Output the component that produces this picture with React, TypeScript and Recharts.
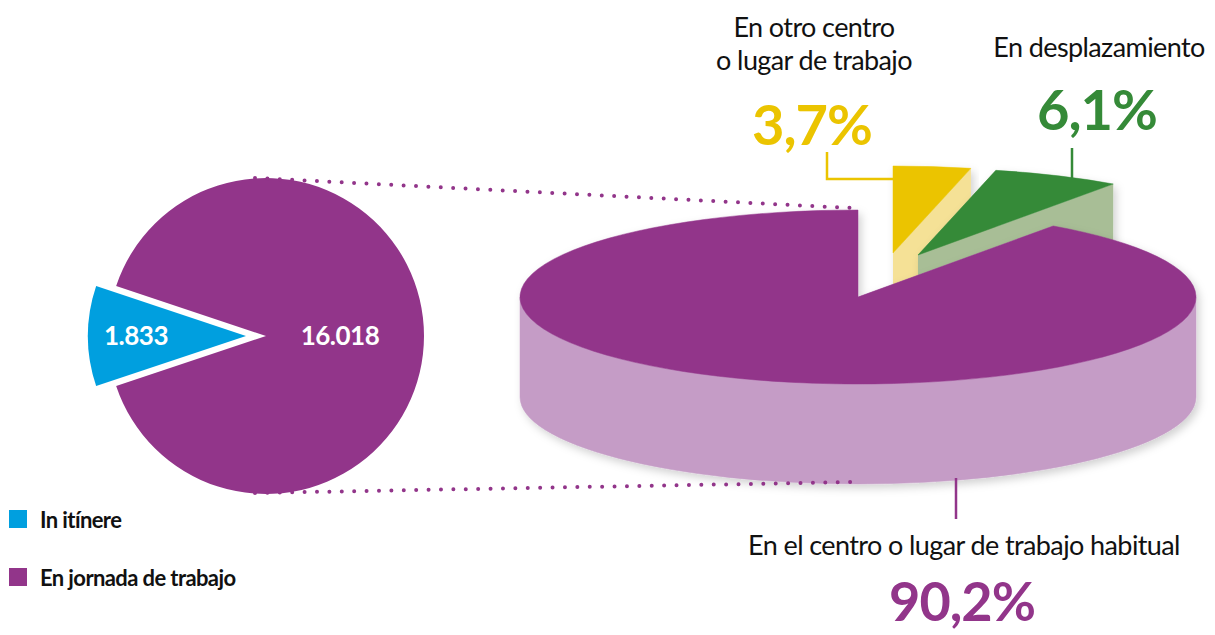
import { PieChart, Pie, Cell } from "recharts";

// left pie: total accidents split
const LEFT_NAMES = ["In itínere", "En jornada de trabajo"];
const LEFT_VALUES = [1833, 16018];
const LEFT_LABELS = ["1.833", "16.018"];

// right pie: breakdown of "en jornada de trabajo" (%)
const RIGHT_NAMES = [
  "En otro centro o lugar de trabajo",
  "En desplazamiento",
  "En el centro o lugar de trabajo habitual",
];
const RIGHT_VALUES = [3.7, 6.1, 90.2];
const RIGHT_LABELS = ["3,7%", "6,1%", "90,2%"];

const PURPLE = "#92358a";
const PURPLE_SIDE = "#c59cc6";
const BLUE = "#009fdf";
const LEFT_COLORS = [BLUE, PURPLE];
const TOP_COLORS = ["#ebc400", "#358a38", PURPLE];
const SIDE_COLORS = ["#f5e196", "#a8be96", PURPLE_SIDE];
// exploded slices (screen px)
const EXPLODE: [number, number][] = [
  [35, -44],
  [60, -42],
  [0, 0],
];
const TILT = 87 / 338;
const DEPTH = 100;
const RAD = Math.PI / 180;

const leftData = LEFT_NAMES.map((name, i) => ({ name, value: LEFT_VALUES[i], label: LEFT_LABELS[i] }));
const rightData = RIGHT_NAMES.map((name, i) => ({ name, value: RIGHT_VALUES[i], label: RIGHT_LABELS[i] }));

const leftTotal = LEFT_VALUES.reduce((a, b) => a + b, 0);
const leftStart = 180 - (LEFT_VALUES[0] / leftTotal) * 180;

const FONT = "Lato, 'Open Sans', sans-serif";

function Slice3D(props: any) {
  const { cx, cy, outerRadius, startAngle, endAngle, index } = props;
  const [ox, oy] = EXPLODE[index] ?? [0, 0];
  const x0 = cx + ox;
  const y0 = cy + oy;
  const rx = outerRadius;
  const ry = outerRadius * TILT;
  const pt = (a: number) => [x0 + rx * Math.cos(a * RAD), y0 - ry * Math.sin(a * RAD)];
  const large = Math.abs(startAngle - endAngle) > 180 ? 1 : 0;
  const sweep = startAngle > endAngle ? 1 : 0;
  const [sx, sy] = pt(startAngle);
  const [ex, ey] = pt(endAngle);
  const top = `M${x0},${y0} L${sx},${sy} A${rx},${ry} 0 ${large} ${sweep} ${ex},${ey} Z`;
  const face = (x: number, y: number) =>
    `M${x0},${y0} L${x},${y} L${x},${y + DEPTH} L${x0},${y0 + DEPTH} Z`;

  // outer wall: only the front half (angles where the rim faces the viewer)
  const lo = Math.min(startAngle, endAngle);
  const hi = Math.max(startAngle, endAngle);
  const walls: string[] = [];
  for (let k = -2; k <= 2; k++) {
    const a = Math.max(lo, -180 + 360 * k);
    const b = Math.min(hi, 360 * k);
    if (b - a > 0.01) {
      const [ax, ay] = pt(b);
      const [bx, by] = pt(a);
      walls.push(
        `M${ax},${ay} A${rx},${ry} 0 0 1 ${bx},${by} L${bx},${by + DEPTH} A${rx},${ry} 0 0 0 ${ax},${ay + DEPTH} Z`
      );
    }
  }
  const side = SIDE_COLORS[index];
  const col = TOP_COLORS[index];
  return (
    <g filter="url(#pieShadow)">
      <path d={face(sx, sy)} fill={side} />
      <path d={face(ex, ey)} fill={side} />
      {walls.map((w, i) => (
        <path key={i} d={w} fill={side} stroke={side} strokeWidth={0.5} />
      ))}
      <path d={top} fill={col} stroke={col} strokeWidth={0.5} />
    </g>
  );
}

const leftLabel = (which: number, r: number) => (p: any) => {
  if (p.index !== which) return null;
  const x = p.cx + r * Math.cos(-p.midAngle * RAD);
  const y = p.cy + r * Math.sin(-p.midAngle * RAD);
  return (
    <text x={x} y={y + 9} textAnchor="middle" fill="#fff" fontFamily={FONT} fontWeight={700} fontSize={26} letterSpacing={-0.5}>
      {p.payload.label}
    </text>
  );
};

export default function App() {
  const txt = { fontFamily: FONT, fill: "#111", fontSize: 27, letterSpacing: -0.6 } as const;
  const pct = { fontFamily: FONT, fontWeight: 700, fontSize: 56, letterSpacing: -1 } as const;
  return (
    <div style={{ position: "absolute", left: 0, top: 0, width: 1215, height: 635, background: "#fff", overflow: "hidden" }}>
      <svg width={0} height={0} style={{ position: "absolute" }}>
        <defs>
          <filter id="pieShadow" x="-10%" y="-10%" width="120%" height="130%">
            <feDropShadow dx="3" dy="4" stdDeviation="4" floodColor="#000" floodOpacity="0.18" />
          </filter>
        </defs>
      </svg>
      <PieChart width={1215} height={635} margin={{ top: 0, right: 0, bottom: 0, left: 0 }}>
        <Pie
          data={leftData}
          dataKey="value"
          nameKey="name"
          cx={266}
          cy={336}
          outerRadius={158}
          startAngle={leftStart}
          endAngle={leftStart + 360}
          stroke="none"
          isAnimationActive={false}
          labelLine={false}
          label={leftLabel(1, 74)}
        >
          <Cell fill="transparent" />
          <Cell fill={PURPLE} />
        </Pie>
        <Pie
          data={leftData}
          dataKey="value"
          nameKey="name"
          cx={246}
          cy={336}
          outerRadius={158}
          startAngle={leftStart}
          endAngle={leftStart + 360}
          stroke="none"
          isAnimationActive={false}
          labelLine={false}
          label={leftLabel(0, 110)}
        >
          <Cell fill={BLUE} />
          <Cell fill="transparent" />
        </Pie>
        <Pie
          data={rightData}
          dataKey="value"
          nameKey="name"
          cx={858}
          cy={297}
          outerRadius={338}
          startAngle={90}
          endAngle={-270}
          stroke="none"
          isAnimationActive={false}
          shape={Slice3D}
        >
          {rightData.map((d, i) => (
            <Cell key={d.name} fill={TOP_COLORS[i]} />
          ))}
        </Pie>
      </PieChart>
      <svg width={1215} height={635} style={{ position: "absolute", left: 0, top: 0, pointerEvents: "none" }}>
        {/* zoom connectors */}
        <line x1={255} y1={178} x2={852} y2={208} stroke={PURPLE} strokeWidth={4} strokeLinecap="round" strokeDasharray="0 12.4" />
        <line x1={255} y1={493} x2={856} y2={482} stroke={PURPLE} strokeWidth={4} strokeLinecap="round" strokeDasharray="0 12.4" />
        {/* leader lines */}
        <polyline points="827,152 827,179 893,179" fill="none" stroke={TOP_COLORS[0]} strokeWidth={2.5} />
        <line x1={1072} y1={148} x2={1072} y2={178} stroke={TOP_COLORS[1]} strokeWidth={2.5} />
        <line x1={956} y1={478} x2={956} y2={519} stroke={PURPLE} strokeWidth={2.5} />
        {/* annotations */}
        <text x={814} y={37} textAnchor="middle" {...txt}>En otro centro</text>
        <text x={814} y={70} textAnchor="middle" {...txt}>o lugar de trabajo</text>
        <text x={812} y={145} textAnchor="middle" fill={TOP_COLORS[0]} {...pct}>{RIGHT_LABELS[0]}</text>
        <text x={1099} y={57} textAnchor="middle" {...txt}>En desplazamiento</text>
        <text x={1097} y={130} textAnchor="middle" fill={TOP_COLORS[1]} {...pct}>{RIGHT_LABELS[1]}</text>
        <text x={964} y={555} textAnchor="middle" {...txt}>{RIGHT_NAMES[2]}</text>
        <text x={962} y={621} textAnchor="middle" fill={PURPLE} {...pct} fontSize={54}>{RIGHT_LABELS[2]}</text>
        {/* legend */}
        {LEFT_NAMES.map((n, i) => (
          <g key={n}>
            <rect x={9} y={510 + i * 58} width={18} height={18} fill={LEFT_COLORS[i]} />
            <text x={40} y={528 + i * 58} fontFamily={FONT} fontWeight={700} fontSize={22} letterSpacing={-0.6} fill="#111">
              {n}
            </text>
          </g>
        ))}
      </svg>
    </div>
  );
}
